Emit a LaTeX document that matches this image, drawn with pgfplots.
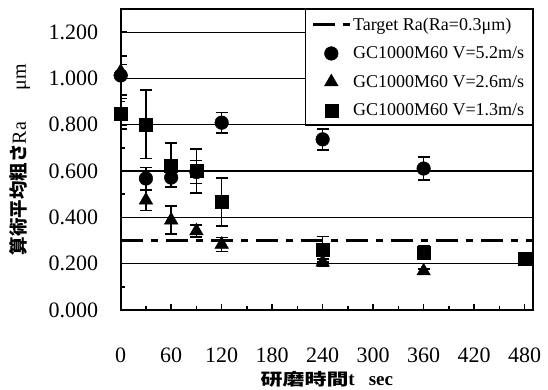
\documentclass[border=0pt]{standalone}
\usepackage{pgfplots}
\pgfplotsset{compat=1.18}
\usepackage{fontspec}
\setmainfont{Liberation Serif}
\newfontfamily\cjk{Noto Sans CJK JP}
\pgfplotsset{
  linelegend/.style={legend image code/.code={\draw[##1] (0pt,0pt) -- (37pt,0pt);}},
  mylegend/.style={legend image code/.code={\draw[mark repeat=2,mark phase=2,##1] plot coordinates {(0pt,0pt) (18.5pt,0pt) (37pt,0pt)};}},
}
\begin{document}
\begin{tikzpicture}[x=1pt,y=1pt]
\path[use as bounding box] (0,0) rectangle (548,390);
\begin{axis}[
  at={(120.7pt,80pt)}, anchor=south west,
  scale only axis, width=412.3pt, height=301pt,
  xmin=0, xmax=490, ymin=0, ymax=1.3,
  xtick={0,60,120,180,240,300,360,420,480},
  minor xtick={30,90,150,210,270,330,390,450},
  ytick={0,0.2,0.4,0.6,0.8,1.0,1.2},
  minor ytick={0.1,0.3,0.5,0.7,0.9,1.1},
  xtick pos=left, ytick pos=left,
  tick align=inside, major tick length=6pt, minor tick length=4pt,
  tick style={black, line width=1.5pt},
  ymajorgrids, grid style={black, line width=1.2pt},
  axis line style={line width=2.2pt},
  /pgf/number format/assume math mode=true,
  tick label style={font=\fontsize{22}{24}\selectfont},
  yticklabel style={/pgf/number format/fixed, /pgf/number format/fixed zerofill, /pgf/number format/precision=3, xshift=-19pt},
  xticklabel style={yshift=-34pt},
  xlabel={\scalebox{1.33}[1]{\cjk\bfseries\fontsize{16.5}{18}\selectfont 研磨時間}\textbf{\fontsize{19}{20}\selectfont t\hspace{14pt}sec}},
  xlabel style={at={(axis description cs:0.5,0)}, anchor=north, yshift=-58pt},
  ylabel={{\cjk\bfseries\fontsize{18.5}{20}\selectfont 算術平均粗さ}{\fontsize{20}{22}\selectfont Ra\hspace{32pt}μm}},
  every axis y label/.style={at={(axis description cs:-0.2442,0.5)}, rotate=90, anchor=center},
  legend style={at={(1,1)}, anchor=north east, draw=black, line width=1.5pt,
    font=\fontsize{18}{20}\selectfont, cells={anchor=west}, row sep=11pt,
    inner xsep=6pt, inner ysep=6pt},
  legend cell align=left,
]
\addplot[black, line width=2.5pt, dash pattern=on 22pt off 8pt on 7pt off 8pt, linelegend]
  coordinates {(0,0.3) (490,0.3)};
\addlegendentry{Target Ra(Ra=0.3μm)}

\addplot[black, only marks, mark=*, mark size=6.8pt, mark options={fill=black, line width=0.5pt}, mylegend,
  error bars/.cd, y dir=both, y explicit,
  error bar style={line width=1.6pt, black},
  error mark options={rotate=90, line width=1.6pt, mark size=6pt, black}]
  table[x=x, y=y, y error=e] {
x y e
0 1.013 0.085
30 0.568 0.047
60 0.572 0.040
90 0.596 0.050
120 0.809 0.044
240 0.737 0.046
360 0.611 0.049
};
\addlegendentry{GC1000M60 V=5.2m/s}

\addplot[black, only marks, mark=triangle*, mark size=7.8pt, mark options={fill=black, line width=0.5pt}, mylegend,
  error bars/.cd, y dir=both, y explicit,
  error bar style={line width=1.6pt, black},
  error mark options={rotate=90, line width=1.6pt, mark size=6pt, black}]
  table[x=x, y=y, y error=e] {
x y e
0 1.030 0.030
30 0.474 0.045
60 0.388 0.060
90 0.341 0.025
120 0.283 0.030
240 0.206 0.015
360 0.168 0.010
};
\addlegendentry{GC1000M60 V=2.6m/s}

\addplot[black, only marks, mark=square*, mark size=6.5pt, mark options={fill=black, line width=0.5pt}, mylegend,
  error bars/.cd, y dir=both, y explicit,
  error bar style={line width=1.6pt, black},
  error mark options={rotate=90, line width=1.6pt, mark size=6pt, black}]
  table[x=x, y=y, y error=e] {
x y e
0 0.848 0.065
30 0.802 0.148
60 0.625 0.095
90 0.600 0.095
120 0.467 0.103
240 0.262 0.055
360 0.249 0.030
480 0.223 0.000
};
\addlegendentry{GC1000M60 V=1.3m/s}
\end{axis}
\end{tikzpicture}
\end{document}
